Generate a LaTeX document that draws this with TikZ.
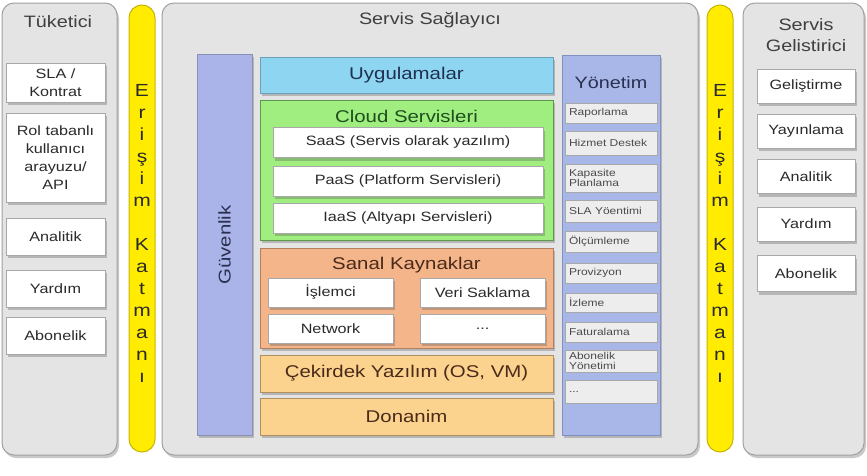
\documentclass[tikz,border=0pt]{standalone}
\usepackage{fontspec}
\setmainfont{Liberation Sans}[FakeStretch=1.2]
\usetikzlibrary{shadows}
\definecolor{panelfill}{HTML}{E4E4E4}
\definecolor{panelbord}{HTML}{A0A0A0}
\definecolor{yfill}{HTML}{FFEC00}
\definecolor{ybord}{HTML}{C8B400}
\definecolor{txt}{HTML}{2A2A2A}
\definecolor{wbord}{HTML}{A8A8A8}
\definecolor{guvfill}{HTML}{AAB4E8}
\definecolor{guvbord}{HTML}{8890B8}
\definecolor{uygfill}{HTML}{8DD5F0}
\definecolor{uygbord}{HTML}{6AA0B8}
\definecolor{cloudfill}{HTML}{A0EE80}
\definecolor{cloudbord}{HTML}{5A9A4A}
\definecolor{cloudtxt}{HTML}{1F4F1F}
\definecolor{sanalfill}{HTML}{F5B58A}
\definecolor{sanalbord}{HTML}{B08060}
\definecolor{sanaltxt}{HTML}{4A2A1A}
\definecolor{corefill}{HTML}{FBD38F}
\definecolor{corebord}{HTML}{B09060}
\definecolor{yonfill}{HTML}{A8B6E8}
\definecolor{yonbord}{HTML}{8090C0}
\definecolor{yontxt}{HTML}{2A3050}
\definecolor{yitemfill}{HTML}{EDEDED}
\definecolor{uygtxt}{HTML}{1F3050}
\newcommand\fntTitle{\fontsize{16.5}{20}\selectfont}
\newcommand\fntBig{\fontsize{17}{20}\selectfont}
\newcommand\fntItem{\fontsize{13.5}{18}\selectfont}
\newcommand\fntSmall{\fontsize{10}{10}\selectfont}
\begin{document}
\begin{tikzpicture}[x=1pt,y=-1pt,
  shd/.style={drop shadow={shadow xshift=2pt,shadow yshift=-3pt,opacity=0.3,fill=black!70}},
  panel/.style={draw=panelbord,fill=panelfill,rounded corners=12pt,line width=1pt,inner sep=0pt,shd},
  ybar/.style={draw=ybord,fill=yfill,rounded corners=13pt,line width=1pt,inner sep=0pt,minimum width=26pt,minimum height=447pt},
  ptitle/.style={font=\fntTitle,text=txt!90,align=center},
  wbox/.style={draw=wbord,fill=white,line width=0.8pt,inner sep=0pt,font=\fntItem,text=txt,align=center,shd},
  layer/.style={line width=1pt,inner sep=0pt,minimum width=293pt,font=\fntBig,shd},
  yitem/.style={draw=wbord,fill=yitemfill,line width=0.6pt,inner xsep=4pt,inner ysep=0pt,text width=84pt,align=left,font=\fntSmall,text=txt!85,minimum width=92pt},
  letter/.style={font=\fontsize{17.5}{17.5}\selectfont,text=txt,anchor=base}
]
\useasboundingbox (0,0) rectangle (867,475);

% panels
\node[panel,minimum width=115pt,minimum height=452pt] (lp) at (59.5,229) {};
\node[panel,minimum width=536pt,minimum height=452pt] (cp) at (430,229) {};
\node[panel,minimum width=121pt,minimum height=452pt] (rp) at (803.5,229) {};
\node[ybar] (yl) at (142,228.5) {};
\node[ybar] (yr) at (720,228.5) {};

% titles
\node[ptitle] (tl) at (58,22) {Tüketici};
\node[ptitle] (tc) at (430,20) {Servis Sağlayıcı};
\node[ptitle,font=\fontsize{16.5}{21}\selectfont] (tr) at (806,35) {Servis\\Gelistirici};

% access layer letters
\foreach \l/\yy [count=\i] in {E/90,r/112,i/134,ş/156,i/178,m/200,K/244,a/266,t/288,m/310,a/332,n/354,ı/376}{
  \node[letter] (eL\i) at (142,\yy+6.5) {\l};
  \node[letter] (eR\i) at (720,\yy+6.5) {\l};
}

% consumer items
\node[wbox,minimum width=99pt,minimum height=39pt] (sla) at (55.5,82.5) {SLA /\\Kontrat};
\node[wbox,minimum width=99pt,minimum height=89pt] (rol) at (55.5,157.5) {Rol tabanlı\\kullanıcı\\arayuzu/\\API};
\node[wbox,minimum width=99pt,minimum height=37pt] (lan) at (55.5,236.5) {Analitik};
\node[wbox,minimum width=99pt,minimum height=37pt] (lya) at (55.5,288.5) {Yardım};
\node[wbox,minimum width=99pt,minimum height=37pt] (lab) at (55.5,335.5) {Abonelik};

% developer items
\node[wbox,minimum width=98pt,minimum height=34pt] (gel) at (806,86) {Geliştirme};
\node[wbox,minimum width=98pt,minimum height=34pt] (yay) at (806,131) {Yayınlama};
\node[wbox,minimum width=98pt,minimum height=34pt] (ran) at (806,176.5) {Analitik};
\node[wbox,minimum width=98pt,minimum height=34pt] (rya) at (806,224) {Yardım};
\node[wbox,minimum width=98pt,minimum height=36pt] (rab) at (806,273.5) {Abonelik};

% security
\node[draw=guvbord,fill=guvfill,line width=1pt,inner sep=0pt,minimum width=55pt,minimum height=381pt,shd] (guv) at (224.5,244.5) {};
\node[rotate=90,font=\fntBig,text=yontxt] (guvt) at (224.5,245) {Güvenlik};

% layers
\node[layer,draw=uygbord,fill=uygfill,minimum height=36pt,text=uygtxt] (uyg) at (406.5,75) {Uygulamalar};
\node[layer,draw=cloudbord,fill=cloudfill,minimum height=140pt] (cloud) at (406.5,170) {};
\node[font=\fntBig,text=cloudtxt] (cloudt) at (406.5,116) {Cloud Servisleri};
\node[wbox,minimum width=270pt,minimum height=30pt] (saas) at (408,142.5) {SaaS (Servis olarak yazılım)};
\node[wbox,minimum width=270pt,minimum height=30pt] (paas) at (408,181) {PaaS (Platform Servisleri)};
\node[wbox,minimum width=270pt,minimum height=30pt] (iaas) at (408,218) {IaaS (Altyapı Servisleri)};

\node[layer,draw=sanalbord,fill=sanalfill,minimum height=100pt] (sanal) at (406.5,298) {};
\node[font=\fntBig,text=sanaltxt] (sanalt) at (406.5,265) {Sanal Kaynaklar};
\node[wbox,minimum width=125pt,minimum height=29pt] (isl) at (330.5,292.5) {İşlemci};
\node[wbox,minimum width=125pt,minimum height=29pt] (veri) at (482.5,292.5) {Veri Saklama};
\node[wbox,minimum width=125pt,minimum height=29pt] (net) at (330.5,328.5) {Network};
\node[wbox,minimum width=125pt,minimum height=29pt] (dots) at (482.5,328.5) {...};

\node[layer,draw=corebord,fill=corefill,minimum height=37pt,text=sanaltxt] (cek) at (406.5,373.5) {Çekirdek Yazılım (OS, VM)};
\node[layer,draw=corebord,fill=corefill,minimum height=37pt,text=sanaltxt] (don) at (406.5,416.5) {Donanim};

% management
\node[draw=yonbord,fill=yonfill,line width=1pt,inner sep=0pt,minimum width=98pt,minimum height=380pt,shd] (yon) at (611,245) {};
\node[font=\fontsize{16.5}{20}\selectfont,text=yontxt] (yont) at (611,83) {Yönetim};
\node[yitem,minimum height=20pt] (m1) at (611,113) {Raporlama};
\node[yitem,minimum height=24pt] (m2) at (611,143) {Hizmet Destek};
\node[yitem,minimum height=28pt] (m3) at (611,178) {Kapasite\\Planlama};
\node[yitem,minimum height=22pt] (m4) at (611,211) {SLA Yöentimi};
\node[yitem,minimum height=21pt] (m5) at (611,241.5) {Ölçümleme};
\node[yitem,minimum height=20pt] (m6) at (611,273) {Provizyon};
\node[yitem,minimum height=19pt] (m7) at (611,302.5) {İzleme};
\node[yitem,minimum height=20pt] (m8) at (611,332) {Faturalama};
\node[yitem,minimum height=22pt] (m9) at (611,361) {Abonelik\\Yönetimi};
\node[yitem,minimum height=23pt] (m10) at (611,391.5) {...};
\end{tikzpicture}
\end{document}
